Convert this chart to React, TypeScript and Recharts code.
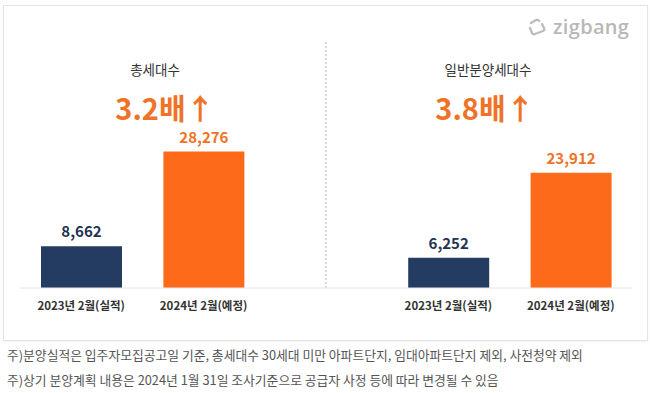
import { BarChart, Bar, XAxis, YAxis, Cell, LabelList, ReferenceLine } from 'recharts';

const categories = ['2023년 2월(실적)', '2024년 2월(예정)'];
const totalHouseholds = [8662, 28276];
const generalSupply = [6252, 23912];
const panelTitles = ['총세대수', '일반분양세대수'];
const multipliers = ['3.2배↑', '3.8배↑'];
const footnotes = [
    '주)분양실적은 입주자모집공고일 기준, 총세대수 30세대 미만 아파트단지, 임대아파트단지 제외, 사전청약 제외',
    '주)상기 분양계획 내용은 2024년 1월 31일 조사기준으로 공급자 사정 등에 따라 변경될 수 있음',
];

const NAVY = '#243c61';
const ORANGE = '#fd6a1a';
const ORANGE_TEXT = '#ef7226';
const FONT = '"Noto Sans CJK KR", "Noto Sans", sans-serif';

// left panel, empty gap band (holds the divider), right panel
const data = [
    ...categories.map((c, i) => ({ key: 't' + i, label: c, value: totalHouseholds[i], idx: i })),
    { key: 'gap', label: '', value: null, idx: -1 },
    ...categories.map((c, i) => ({ key: 'g' + i, label: c, value: generalSupply[i], idx: i })),
];
const labelOf: Record<string, string> = Object.fromEntries(data.map(d => [d.key, d.label]));

const ValueLabel = (props: any) => {
    const { x, y, width, value } = props;
    if (value == null) return null;
    const row = data.find(d => d.value === value);
    return (
        <text x={x + width / 2} y={y - 9} textAnchor="middle" fill={row && row.idx === 0 ? '#1f3352' : ORANGE_TEXT}
            fontSize={15} fontWeight="bold" fontFamily={FONT}>
            {value.toLocaleString('en-US')}
        </text>
    );
};

export default function App() {
    return (
        <div style={{ position: 'absolute', left: 0, top: 0, width: 650, height: 393, background: '#fff', fontFamily: FONT, overflow: 'hidden' }}>
            <div style={{ position: 'absolute', left: 3, top: 5, width: 643, height: 334, border: '1px solid #e4e4e4', boxShadow: '0 1px 2px rgba(0,0,0,0.06)' }} />

            <BarChart width={650} height={393} data={data} margin={{ top: 42, right: 18, bottom: 75, left: 20 }} barCategoryGap={0}
                style={{ position: 'absolute', left: 0, top: 0 }}>
                <XAxis dataKey="key" height={30} tickLine={false} axisLine={{ stroke: '#e6e6e6' }} tickMargin={8}
                    tickFormatter={(k: string) => labelOf[k]} interval={0}
                    tick={{ fill: '#333', fontSize: 11.5, fontWeight: 'bold', fontFamily: FONT }} />
                <YAxis hide domain={[0, 51000]} />
                <ReferenceLine x="gap" stroke="#b0b0b0" strokeDasharray="2 2" />
                <Bar dataKey="value" barSize={81} isAnimationActive={false}>
                    {data.map(d => <Cell key={d.key} fill={d.idx === 0 ? NAVY : ORANGE} />)}
                    <LabelList dataKey="value" content={ValueLabel} />
                </Bar>
            </BarChart>

            {[155, 488].map((cx, i) => (
                <div key={'t' + i} style={{ position: 'absolute', left: cx - 100, width: 200, top: 59, textAlign: 'center', fontSize: 13.5, color: '#333' }}>
                    {panelTitles[i]}
                </div>
            ))}
            {[165, 485].map((cx, i) => (
                <div key={'m' + i} style={{ position: 'absolute', left: cx - 100, width: 200, top: 91, textAlign: 'center', fontSize: 29, fontWeight: 'bold', color: ORANGE_TEXT, lineHeight: '32px' }}>
                    {multipliers[i]}
                </div>
            ))}

            <div style={{ position: 'absolute', left: 527, top: 13, display: 'flex', alignItems: 'center', color: '#b8b8b8' }}>
                <svg width={20} height={20} viewBox="0 0 20 20" style={{ marginRight: 6 }}>
                    <path d="M4 6 L9 3 Q11 2 12 4 M15 7 L17 11 Q18 13 16 14 L8 17 Q6 18 5 16 L3 11" fill="none" stroke="#bdbdbd" strokeWidth={2.4} strokeLinecap="round" strokeLinejoin="round" />
                </svg>
                <span style={{ fontFamily: '"Open Sans", sans-serif', fontSize: 20, fontWeight: 600, letterSpacing: 0.3 }}>zigbang</span>
            </div>

            {footnotes.map((t, i) => (
                <div key={'f' + i} style={{ position: 'absolute', left: 7, top: 345 + i * 25, fontSize: 12.8, color: '#555', whiteSpace: 'nowrap' }}>
                    {t}
                </div>
            ))}
        </div>
    );
}
